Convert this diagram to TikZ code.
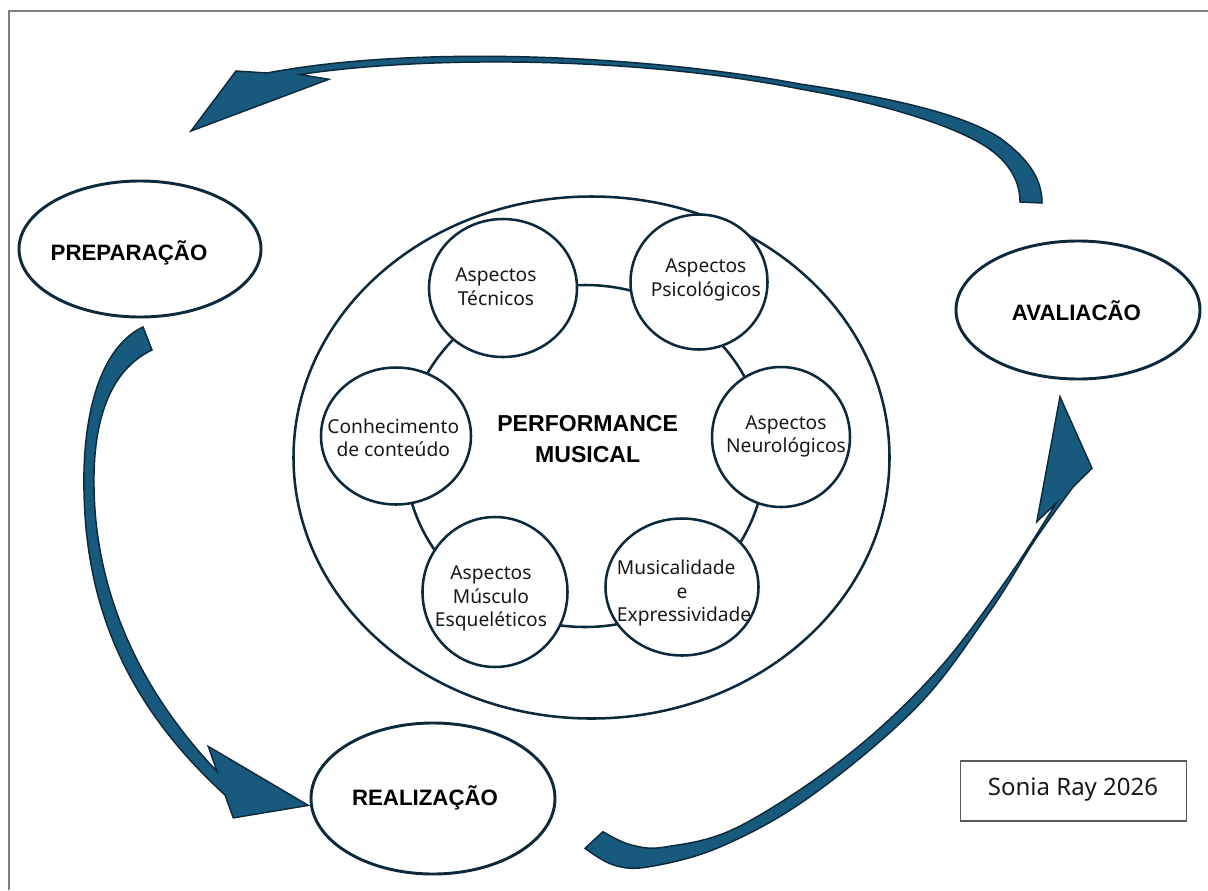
\documentclass[tikz,border=0pt]{standalone}
\usepackage{fontspec}
\setmainfont{Noto Sans}
\newfontfamily\labfont{Liberation Sans}
\usetikzlibrary{shapes.geometric}
\definecolor{navy}{RGB}{12,42,60}
\definecolor{arrowfill}{RGB}{24,90,125}
\definecolor{framegray}{RGB}{128,128,128}
\definecolor{boxgray}{RGB}{90,90,90}
\definecolor{txt}{RGB}{25,25,25}
\begin{document}
\begin{tikzpicture}[x=0.75pt,y=-0.75pt,
  oval/.style={ellipse, draw=navy, line width=2.2pt, fill=white, inner sep=0pt},
  aspect/.style={ellipse, draw=navy, line width=1.9pt, fill=white, inner sep=0pt},
  intext/.style={font=\fontsize{14.4}{17.7}\selectfont, align=center, anchor=base, inner sep=0pt, text=txt},
  bigtext/.style={font=\labfont\bfseries\fontsize{17.3}{23.3}\selectfont, align=center, anchor=base, inner sep=0pt, text=black},
  labtext/.style={font=\labfont\bfseries\fontsize{16.7}{20}\selectfont, anchor=base, inner sep=0pt, text=black},
  bandarrow/.style={fill=arrowfill, draw=navy, line width=1.1pt, line join=miter}]
\useasboundingbox (0,0) rectangle (1208,890);
\fill[white] (0,0) rectangle (1208,890);
\draw[framegray, line width=1.1pt] (9,890) -- (9,11) -- (1208,11);

% outer circle and connecting ring
\node[oval, line width=1.9pt, minimum width={596*0.75pt}, minimum height={522*0.75pt}] (perf) at (591.5,457.5) {};
\node[ellipse, draw=navy, line width=1.9pt, inner sep=0pt, minimum width={360*0.75pt}, minimum height={342*0.75pt}] (ring) at (585,456) {};

% aspect circles
\node[aspect, minimum width={148*0.75pt}, minimum height={138*0.75pt}] (tec) at (503,288) {};
\node[aspect, minimum width={137*0.75pt}, minimum height={135*0.75pt}] (psi) at (699,282) {};
\node[aspect, minimum width={138*0.75pt}, minimum height={140*0.75pt}] (neu) at (781,437) {};
\node[aspect, minimum width={153*0.75pt}, minimum height={137*0.75pt}] (mus) at (682,587) {};
\node[aspect, minimum width={145*0.75pt}, minimum height={150*0.75pt}] (mce) at (495,592) {};
\node[aspect, minimum width={150*0.75pt}, minimum height={137*0.75pt}] (con) at (396,436) {};

\node[intext] (ttec) at (496,305) {Aspectos\\Técnicos};
\node[intext] (tpsi) at (705.8,296) {Aspectos\\Psicológicos};
\node[intext] (tneu) at (786,452.7) {Aspectos\\Neurológicos};
\node[intext] (tcon) at (393.3,456.7) {Conhecimento\\de conteúdo};
\node[intext] (tmce) at (491,626.7) {Aspectos\\Músculo\\Esqueléticos};
\node[intext, align=left, anchor=base west] (tmus) at (616.7,621.7) {Musicalidade\\\makebox[97.5pt]{e}\\Expressividade};
\node[bigtext] (tperf) at (587.7,462.7) {PERFORMANCE\\MUSICAL};

% stage ellipses
\node[oval, minimum width={242*0.75pt}, minimum height={136*0.75pt}] (prep) at (140,249) {};
\node[oval, minimum width={244*0.75pt}, minimum height={138*0.75pt}] (aval) at (1078,310) {};
\node[oval, minimum width={244*0.75pt}, minimum height={151*0.75pt}] (real) at (433,798.5) {};
\node[labtext] (tprep) at (129,260) {PREPARAÇÃO};
\node[labtext] (taval) at (1076.5,320) {AVALIACÃO};
\node[labtext] (treal) at (425,805) {REALIZAÇÃO};

% credit box
\node[draw=boxgray, line width=0.9pt, minimum width={226*0.75pt}, minimum height={60*0.75pt}, inner sep=0pt] (credit) at (1073.5,791) {};
\node[font=\fontsize{18}{20}\selectfont, anchor=base, inner sep=0pt, text=txt] (tcredit) at (1073,795) {Sonia Ray 2026};

% top arrow: AVALIACAO -> PREPARACAO
\draw[bandarrow] (1042,203)
  .. controls (1042,180) and (1030,160) .. (1000,138)
  .. controls (960,112) and (880,96) .. (800,84)
  .. controls (650,56) and (420,44) .. (267,73)
  -- (236,71) -- (191,131) -- (328.7,79.3) -- (300,74.5)
  .. controls (430,55) and (640,57) .. (800,89)
  .. controls (880,103) and (950,124) .. (985,146)
  .. controls (1010,162) and (1020,182) .. (1020,202)
  -- cycle;

% left arrow: PREPARACAO -> REALIZACAO
\draw[bandarrow] (143,327)
  .. controls (105,345) and (86,400) .. (84,470)
  .. controls (82,580) and (110,690) .. (225,795)
  -- (233.3,817.9) -- (308.3,805.4) -- (208.3,746.4) -- (217,771.4)
  .. controls (130,680) and (95,580) .. (94,486)
  .. controls (93,420) and (110,370) .. (152,350)
  -- cycle;

% right arrow: REALIZACAO -> AVALIACAO
\draw[bandarrow] (585,848.3)
  -- plot[smooth, tension=0.6] coordinates {(585,848.3) (613.6,865) (649.3,866.7) (720.7,846.7) (810,796.7) (917,706.7) (988.6,613.3) (1035,540) (1073.3,486.7)}
  -- (1092,468.3) -- (1060,396.7) -- (1036.8,521.7) -- (1056,503.3)
  -- plot[smooth, tension=0.6] coordinates {(1056,503.3) (1006.4,580) (935,673.3) (845.7,756.7) (738.6,826.7) (667,846.7) (631.4,845) (602.9,831.7)}
  -- cycle;
\end{tikzpicture}
\end{document}
